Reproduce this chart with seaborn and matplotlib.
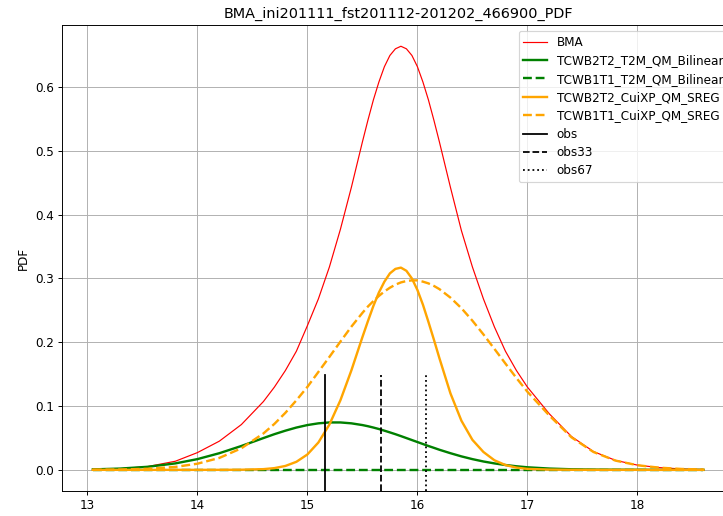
import matplotlib
matplotlib.use("Agg")
import matplotlib.pyplot as plt
import seaborn as sns
import pandas as pd

# temperature grid
temp = [13.05, 13.3, 13.55, 13.8, 14.0, 14.2, 14.4, 14.6, 14.7, 14.8, 14.9,
        15.0, 15.1, 15.2, 15.3, 15.4, 15.5, 15.55, 15.6, 15.65, 15.7, 15.75,
        15.8, 15.85, 15.9, 15.95, 16.0, 16.05, 16.1, 16.15, 16.2, 16.3, 16.4,
        16.5, 16.6, 16.7, 16.8, 16.9, 17.0, 17.2, 17.4, 17.6, 17.8, 18.0,
        18.2, 18.4, 18.6]

pdf_bma = [0.001, 0.0018, 0.0052, 0.0135, 0.027, 0.045, 0.071, 0.107, 0.1297, 0.1557, 0.186,
           0.226, 0.268, 0.318, 0.377, 0.443, 0.514, 0.548, 0.580, 0.608, 0.632, 0.6496,
           0.660, 0.664, 0.660, 0.6496, 0.632, 0.608, 0.580, 0.548, 0.514, 0.443, 0.375,
           0.318, 0.268, 0.224, 0.186, 0.1557, 0.1297, 0.0876, 0.0523, 0.0287, 0.0149, 0.0074,
           0.0035, 0.0014, 0.0005]

pdf_b2t2_bilinear = [0.0007, 0.0020, 0.0048, 0.0101, 0.0168, 0.0261, 0.0374, 0.0498, 0.0559, 0.0614, 0.0663,
                     0.0702, 0.0729, 0.0743, 0.0743, 0.0729, 0.0702, 0.0684, 0.0663, 0.0640, 0.0614, 0.0587,
                     0.0559, 0.0529, 0.0498, 0.0467, 0.0436, 0.0405, 0.0374, 0.0345, 0.0315, 0.0261, 0.0211,
                     0.0168, 0.0131, 0.0101, 0.0076, 0.0056, 0.0040, 0.0020, 0.0009, 0.0004, 0.0002, 0.0001,
                     0.0, 0.0, 0.0]

pdf_b1t1_bilinear = [0.0] * 47

pdf_b2t2_sreg = [0.0, 0.0, 0.0, 0.0, 0.0, 0.0, 0.0002, 0.0011, 0.0027, 0.0061, 0.0126,
                 0.0241, 0.0429, 0.0710, 0.109, 0.156, 0.208, 0.233, 0.257, 0.278, 0.295, 0.308,
                 0.315, 0.317, 0.312, 0.300, 0.282, 0.259, 0.232, 0.204, 0.175, 0.120, 0.077,
                 0.047, 0.028, 0.015, 0.0075, 0.0035, 0.0015, 0.0004, 0.0001, 0.0, 0.0, 0.0,
                 0.0, 0.0, 0.0]

pdf_b1t1_sreg = [0.0002, 0.0005, 0.0017, 0.0046, 0.0096, 0.0187, 0.0338, 0.057, 0.072, 0.0894, 0.109,
                 0.130, 0.1535, 0.177, 0.201, 0.2245, 0.246, 0.256, 0.2646, 0.2726, 0.2796, 0.2855,
                 0.2903, 0.2938, 0.2960, 0.297, 0.297, 0.295, 0.2923, 0.2883, 0.2833, 0.270, 0.2534,
                 0.2338, 0.2123, 0.1896, 0.1666, 0.144, 0.1224, 0.085, 0.051, 0.028, 0.0145, 0.0072,
                 0.0034, 0.0014, 0.0005]

obs = 15.16
obs33 = 15.67
obs67 = 16.08

curves = [
    ("BMA", pdf_bma, "red", "-", 1.0),
    ("TCWB2T2_T2M_QM_Bilinear", pdf_b2t2_bilinear, "green", "-", 2.0),
    ("TCWB1T1_T2M_QM_Bilinear", pdf_b1t1_bilinear, "green", "--", 2.0),
    ("TCWB2T2_CuiXP_QM_SREG", pdf_b2t2_sreg, "orange", "-", 2.0),
    ("TCWB1T1_CuiXP_QM_SREG", pdf_b1t1_sreg, "orange", "--", 2.0),
]

fig = plt.figure(figsize=(723 / 86, 516 / 86), dpi=86)
ax = fig.add_axes([0.0862, 0.0484, 0.929, 0.903])

for name, vals, color, ls, lw in curves:
    df = pd.DataFrame({"temp": temp, "pdf": vals})
    sns.lineplot(data=df, x="temp", y="pdf", color=color, linestyle=ls,
                 linewidth=lw, label=name, ax=ax)

ax.axvline(obs, ymin=0, ymax=0.25, color="k", linestyle="-", linewidth=1.5, label="obs")
ax.axvline(obs33, ymin=0, ymax=0.25, color="k", linestyle="--", linewidth=1.5, label="obs33")
ax.axvline(obs67, ymin=0, ymax=0.25, color="k", linestyle=":", linewidth=1.5, label="obs67")

ax.set_xlabel("")
ax.set_ylabel("PDF")
ax.set_title("BMA_ini201111_fst201112-201202_466900_PDF")
ax.grid(True)
ax.legend(loc="upper right", labelspacing=0.45)

fig.savefig("out.png", dpi=86)
